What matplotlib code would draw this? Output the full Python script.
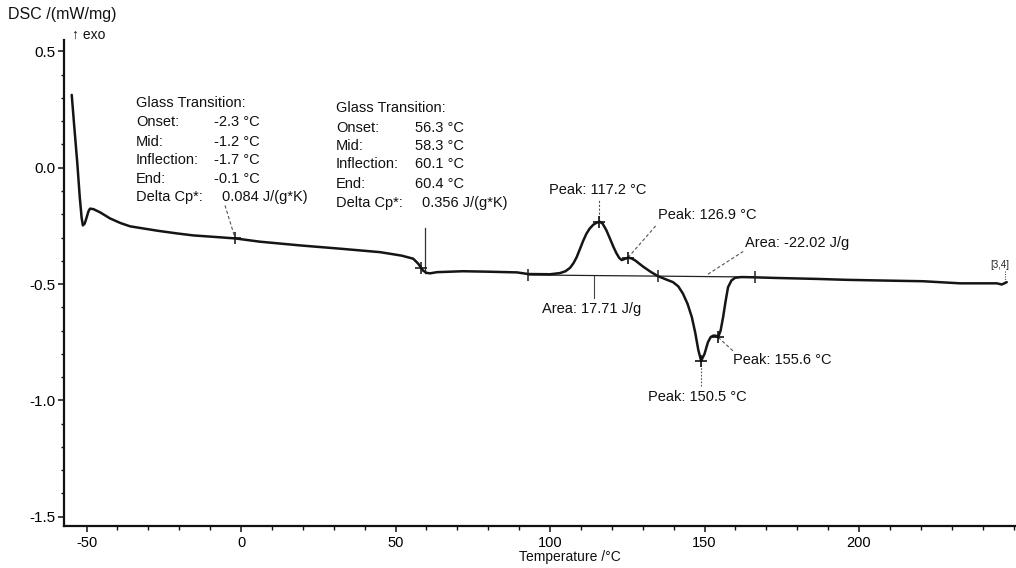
import matplotlib
matplotlib.use('Agg')
import matplotlib.pyplot as plt
from matplotlib.ticker import MultipleLocator, FixedLocator, FormatStrFormatter
import numpy as np

plt.rcParams['font.family'] = ['Liberation Sans', 'DejaVu Sans']
plt.rcParams['axes.unicode_minus'] = False

# ---- data ----
temperature = [-54.8, -54.0, -53.0, -52.2, -51.6, -51.2, -50.6, -50.0, -49.4, -48.9,
               -47.8, -45.6, -42.4, -39.0, -35.9, -31.7, -27.0, -21.0, -15.5, -8.0,
               -1.9, 6.1, 19.1, 32.0, 45.0, 52.0, 55.7, 57.3, 58.9, 60.0,
               61.2, 63.4, 71.8, 80.0, 89.3, 92.9, 100.0, 103.2, 105.0, 106.5,
               107.6, 108.6, 109.6, 110.7, 111.8, 112.8, 114.0, 115.0, 116.0, 117.0,
               118.2, 119.4, 120.5, 121.5, 122.4, 123.2, 124.2, 125.2, 126.2, 127.5,
               130.1, 132.5, 134.9, 137.5, 139.8, 141.5, 143.0, 144.5, 145.9, 147.0,
               148.0, 148.9, 150.0, 151.1, 152.0, 152.8, 153.6, 154.4, 155.2, 156.0,
               156.8, 157.6, 158.7, 159.9, 162.0, 165.7, 173.4, 186.3, 196.0, 207.8,
               220.7, 232.7, 240.0, 244.6, 246.2, 247.8]
dsc = [0.313, 0.180, 0.020, -0.127, -0.215, -0.248, -0.240, -0.215, -0.188, -0.176,
       -0.178, -0.192, -0.218, -0.238, -0.252, -0.261, -0.271, -0.282, -0.291, -0.298,
       -0.304, -0.318, -0.334, -0.348, -0.363, -0.378, -0.391, -0.412, -0.442, -0.452,
       -0.454, -0.449, -0.445, -0.447, -0.450, -0.457, -0.458, -0.453, -0.445, -0.430,
       -0.410, -0.385, -0.352, -0.315, -0.283, -0.262, -0.245, -0.237, -0.232, -0.240,
       -0.268, -0.305, -0.340, -0.368, -0.388, -0.397, -0.392, -0.387, -0.389, -0.398,
       -0.425, -0.447, -0.466, -0.480, -0.492, -0.510, -0.541, -0.585, -0.643, -0.710,
       -0.785, -0.830, -0.800, -0.750, -0.728, -0.722, -0.722, -0.729, -0.700, -0.643,
       -0.575, -0.514, -0.485, -0.473, -0.470, -0.471, -0.474, -0.478, -0.482, -0.485,
       -0.488, -0.497, -0.497, -0.497, -0.502, -0.492]

baseline_t = [92.9, 134.9, 166.3]
baseline_dsc = [-0.461, -0.466, -0.470]
peak_t = [116.0, 125.2, 148.9, 154.4]
glass_t = [-1.9, 58.3]

gt1_labels = ['Glass Transition:', 'Onset:', 'Mid:', 'Inflection:', 'End:', 'Delta Cp*:']
gt1_values = ['', '-2.3 °C', '-1.2 °C', '-1.7 °C', '-0.1 °C', '0.084 J/(g*K)']
gt2_labels = ['Glass Transition:', 'Onset:', 'Mid:', 'Inflection:', 'End:', 'Delta Cp*:']
gt2_values = ['', '56.3 °C', '58.3 °C', '60.1 °C', '60.4 °C', '0.356 J/(g*K)']

peak_texts = ['Peak: 117.2 °C', 'Peak: 126.9 °C', 'Peak: 150.5 °C', 'Peak: 155.6 °C']
area_texts = ['Area: 17.71 J/g', 'Area: -22.02 J/g']

x_major_ticks = [-50, 0, 50, 100, 150, 200]
x_minor = 10
y_major = 0.5
y_minor = 0.1

# ---- figure ----
fig = plt.figure(figsize=(10.16, 5.68), dpi=100)
ax = fig.add_axes([0.063, 0.074, 0.937, 0.856])
ax.set_xlim(-57.3, 250.8)
ax.set_ylim(-1.54, 0.55)

for s in ['top', 'right']:
    ax.spines[s].set_visible(False)
for s in ['left', 'bottom']:
    ax.spines[s].set_linewidth(1.6)
    ax.spines[s].set_color('#111111')

ax.xaxis.set_major_locator(FixedLocator(x_major_ticks))
ax.xaxis.set_minor_locator(MultipleLocator(x_minor))
ax.yaxis.set_major_locator(MultipleLocator(y_major))
ax.yaxis.set_minor_locator(MultipleLocator(y_minor))
ax.tick_params(axis='x', which='major', direction='out', length=4, width=1.1,
               labelsize=10.5, pad=3, color='#111111')
ax.tick_params(axis='x', which='minor', direction='out', length=3, width=1.0, color='#111111')
ax.tick_params(axis='y', which='major', direction='out', length=4, width=1.1,
               labelsize=11, pad=2, color='#111111')
ax.tick_params(axis='y', which='minor', direction='out', length=2.5, width=1.0, color='#111111')
ax.yaxis.set_major_formatter(FormatStrFormatter('%.1f'))

# curve
ax.plot(temperature, dsc, color='#151515', lw=1.8, solid_joinstyle='round',
        solid_capstyle='round', zorder=3)

# baseline
ax.plot(baseline_t, baseline_dsc, color='#222222', lw=0.9, zorder=2)
ax.plot(baseline_t, baseline_dsc, ls='none', marker='|', ms=9, mew=1.1, color='#222222', zorder=4)

# peak markers
pk_y = np.interp(peak_t, temperature, dsc)
ax.plot(peak_t, pk_y, ls='none', marker='+', ms=9, mew=1.2, color='#111111', zorder=4)
gl_y = np.interp(glass_t, temperature, dsc)
ax.plot(glass_t, gl_y, ls='none', marker='+', ms=8, mew=1.1, color='#111111', zorder=4)

fs = 10.5
# glass transition boxes
rows1 = [0.278, 0.196, 0.111, 0.035, -0.047, -0.126]
for i, (lab, val) in enumerate(zip(gt1_labels, gt1_values)):
    ax.text(-34.0, rows1[i], lab, fontsize=fs, va='center', ha='left', color='#111111')
    if val:
        xv = -6.3 if i == 5 else -8.6
        ax.text(xv, rows1[i], val, fontsize=fs, va='center', ha='left', color='#111111')
rows2 = [0.256, 0.170, 0.093, 0.015, -0.071, -0.153]
for i, (lab, val) in enumerate(zip(gt2_labels, gt2_values)):
    ax.text(30.7, rows2[i], lab, fontsize=fs, va='center', ha='left', color='#111111')
    if val:
        xv = 58.4 if i == 5 else 56.2
        ax.text(xv, rows2[i], val, fontsize=fs, va='center', ha='left', color='#111111')

lead = dict(color='#555555', lw=0.8)
ax.plot([-5.2, glass_t[0]], [-0.162, gl_y[0]], ls=(0, (3, 2)), **lead)
ax.plot([59.5, 59.5], [-0.261, -0.452], ls='-', color='#333333', lw=0.9)

# peak labels and leaders
ax.text(115.5, -0.097, peak_texts[0], fontsize=fs, ha='center', va='center', color='#111111')
ax.plot([peak_t[0], peak_t[0]], [pk_y[0], -0.135], ls=(0, (2, 1.5)), **lead)

ax.text(135.0, -0.205, peak_texts[1], fontsize=fs, ha='left', va='center', color='#111111')
ax.plot([peak_t[1], 134.6], [pk_y[1], -0.244], ls=(0, (3, 2)), **lead)

ax.text(131.7, -0.985, peak_texts[2], fontsize=fs, ha='left', va='center', color='#111111')
ax.plot([peak_t[2], peak_t[2]], [pk_y[2], -0.938], ls=(0, (1.5, 1.5)), **lead)

ax.text(159.2, -0.825, peak_texts[3], fontsize=fs, ha='left', va='center', color='#111111')
ax.plot([peak_t[3], 159.5], [pk_y[3], -0.791], ls=(0, (3, 2)), **lead)

ax.text(113.6, -0.606, area_texts[0], fontsize=fs, ha='center', va='center', color='#111111')
ax.plot([114.2, 114.2], [-0.465, -0.558], ls='-', color='#444444', lw=0.8)

ax.text(163.1, -0.325, area_texts[1], fontsize=fs, ha='left', va='center', color='#111111')
ax.plot([151.1, 162.5], [-0.458, -0.360], ls=(0, (3, 2)), **lead)

ax.text(245.5, -0.418, '[3,4]', fontsize=7, ha='center', va='center', color='#222222')
ax.plot([247.2, 247.2], [-0.446, -0.488], ls=(0, (1, 1.2)), **lead)

# axis titles
fig.text(8 / 1016, 1 - 15 / 568, 'DSC /(mW/mg)', fontsize=11.5, ha='left', va='center',
         color='#111111')
fig.text(72 / 1016, 1 - 35 / 568, '↑ exo', fontsize=10, ha='left', va='center',
         color='#111111')
fig.text(570 / 1016, 1 - 557 / 568, 'Temperature /°C', fontsize=10, ha='center', va='center',
         color='#111111')

fig.savefig('out.png', dpi=100)
